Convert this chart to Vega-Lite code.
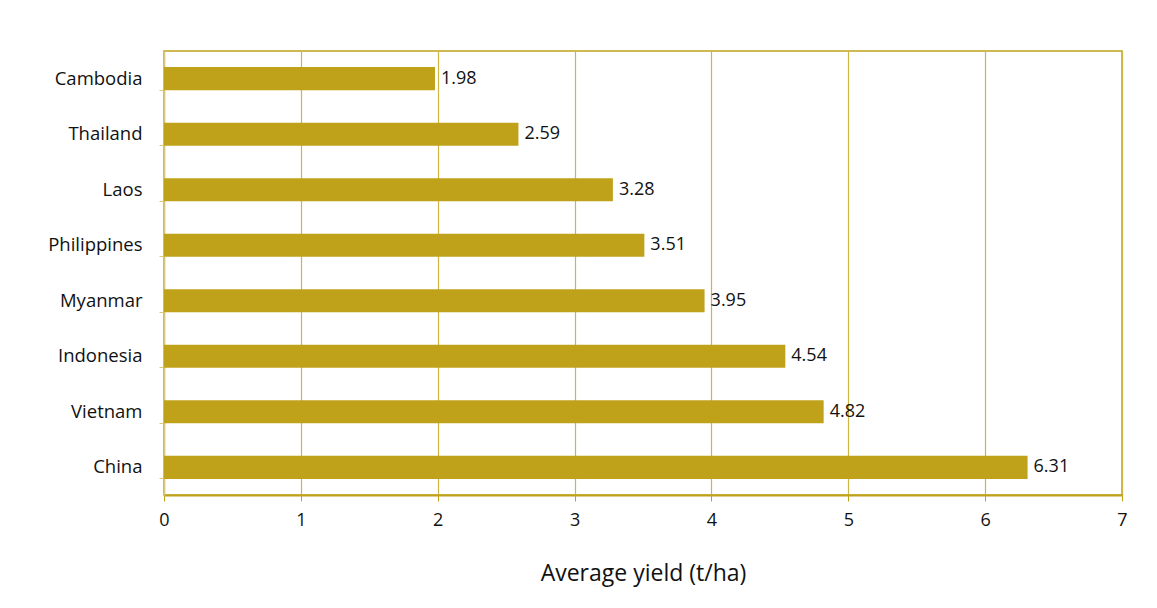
{
  "$schema": "https://vega.github.io/schema/vega-lite/v6.json",
  "autosize": "none",
  "width": 958,
  "height": 444,
  "padding": {"left": 164, "top": 51, "right": 35, "bottom": 113},
  "background": "white",
  "config": {
    "font": "Open Sans",
    "view": {"stroke": "#BFA21A", "strokeWidth": 1.5}
  },
  "data": {
    "values": [
      {"country": "Cambodia", "yield": 1.98},
      {"country": "Thailand", "yield": 2.59},
      {"country": "Laos", "yield": 3.28},
      {"country": "Philippines", "yield": 3.51},
      {"country": "Myanmar", "yield": 3.95},
      {"country": "Indonesia", "yield": 4.54},
      {"country": "Vietnam", "yield": 4.82},
      {"country": "China", "yield": 6.31}
    ]
  },
  "encoding": {
    "y": {
      "field": "country",
      "type": "nominal",
      "sort": null,
      "scale": {"paddingInner": 0.585, "paddingOuter": 0.29},
      "axis": {
        "title": null,
        "labelFont": "Open Sans",
        "labelFontSize": 18.5,
        "labelColor": "#111111",
        "labelPadding": 17,
        "bandPosition": 1,
        "ticks": true,
        "tickSize": 5,
        "tickColor": "#D9C77A",
        "domainColor": "#D9C77A",
        "domainWidth": 1.5,
        "grid": false
      }
    },
    "x": {
      "field": "yield",
      "type": "quantitative",
      "scale": {"domain": [0, 7], "nice": false},
      "axis": {
        "title": "Average yield (t/ha)",
        "titleFont": "Open Sans",
        "titleFontSize": 23,
        "titleFontWeight": "normal",
        "titleColor": "#111111",
        "titlePadding": 33,
        "values": [0, 1, 2, 3, 4, 5, 6, 7],
        "labelFont": "Open Sans",
        "labelFontSize": 18,
        "labelColor": "#111111",
        "labelPadding": 10,
        "labelFlush": false,
        "tickSize": 6,
        "tickColor": "#BFA21A",
        "domainColor": "#BFA21A",
        "domainWidth": 2,
        "grid": true,
        "gridColor": "#CDB548",
        "gridWidth": 1.2
      }
    }
  },
  "layer": [
    {"mark": {"type": "bar", "color": "#BFA21A"}},
    {
      "mark": {"type": "text", "align": "left", "dx": 6, "fontSize": 18, "color": "#111111", "font": "Open Sans"},
      "encoding": {"text": {"field": "yield", "type": "quantitative", "format": ".2f"}}
    }
  ]
}
